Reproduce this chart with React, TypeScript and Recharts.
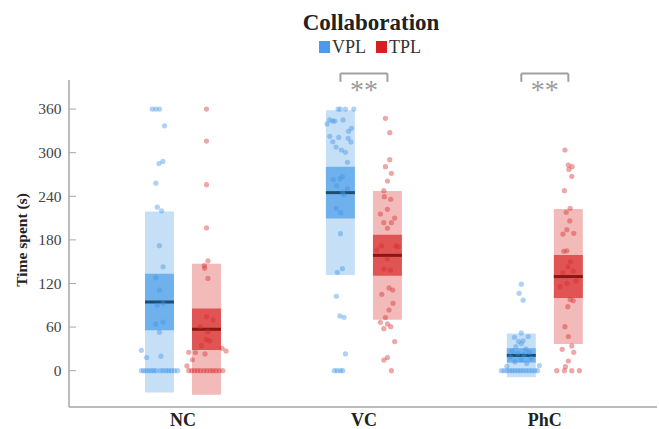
import React from 'react';
import {
  ComposedChart,
  XAxis,
  YAxis,
  Scatter,
  ReferenceArea,
  ReferenceLine,
  Legend,
} from 'recharts';

// ---------------- data ----------------
const title = 'Collaboration';
const yLabel = 'Time spent (s)';
const categories = ['NC', 'VC', 'PhC'];
const seriesNames = ['VPL', 'TPL'];
const yTicks = [0, 60, 120, 180, 240, 300, 360];

// mean, standard deviation (light box), confidence half-width (dark box)
const vplMean = [94.5, 245, 21];
const vplSd = [124.5, 113.5, 30.2];
const vplCi = [39, 35.5, 9.9];
const tplMean = [57, 158.7, 129.5];
const tplSd = [90.3, 88.7, 92.9];
const tplCi = [28.4, 28.2, 29.6];

// individual observations: [jitter (category units), seconds]
const vplNC: [number, number][] = [
  [-0.04, 360], [-0.02, 360], [0, 360], [0.028, 337], [0.019, 288], [-0.003, 285],
  [-0.02, 258], [-0.012, 225], [0.012, 220], [0, 172], [0.02, 143], [-0.02, 128],
  [0, 111], [0.02, 93], [-0.012, 90], [0.02, 67], [-0.02, 64], [0, 53],
  [-0.1, 28], [-0.071, 18], [0.008, 20],
  [-0.1, 0], [-0.088, 0], [-0.074, 0], [-0.06, 0], [-0.045, 0], [-0.032, 0],
  [-0.018, 0], [0.005, 0], [0.02, 0], [0.036, 0], [0.05, 0], [0.066, 0],
  [0.082, 0], [0.1, 0],
];
const vplVC: [number, number][] = [
  [-0.013, 360], [0, 360], [0.028, 360], [0.074, 360], [-0.059, 345], [-0.042, 343.5],
  [-0.031, 343.5], [0.015, 345], [-0.074, 339.5], [0.061, 333.5], [0.045, 329.4],
  [-0.059, 322.5], [-0.009, 321], [0.043, 319.8], [-0.042, 315], [0.058, 314.7],
  [-0.024, 307.8], [0.006, 303.7], [0.028, 300.5], [0.039, 286.8], [-0.04, 262.8],
  [-0.003, 263.8], [0.011, 267], [-0.02, 254.6], [0.039, 250.5], [0.02, 241.8],
  [0.011, 245], [-0.022, 223.5], [0.002, 217.4], [0, 188.5], [-0.017, 135.4],
  [0.011, 140.4], [-0.022, 102.4], [-0.003, 75.3], [0.02, 73.5], [0.028, 23],
  [-0.033, 0], [-0.018, 0], [0, 0], [0.013, 0],
];
const vplPhC: [number, number][] = [
  [0, 119], [-0.012, 106.5], [0.01, 97], [0, 52], [-0.038, 46], [0.038, 47],
  [-0.015, 40], [0.01, 41], [0, 37], [-0.03, 33], [0.025, 30], [-0.05, 27],
  [0.045, 25], [-0.02, 24], [0.015, 22], [-0.06, 19], [0.055, 17], [0, 15],
  [-0.035, 12], [0.03, 10], [-0.08, 6], [0.1, 7],
  [-0.11, 0], [-0.095, 0], [-0.08, 0], [-0.064, 0], [-0.05, 0], [-0.035, 0],
  [-0.02, 0], [-0.005, 0], [0.01, 0], [0.026, 0], [0.042, 0], [0.058, 0],
  [0.075, 0], [0.09, 0],
];
const tplNC: [number, number][] = [
  [0, 360], [0, 316], [0, 256], [0, 196.4], [0.008, 151], [-0.012, 144.5],
  [-0.01, 141], [0.008, 127], [0, 74.3], [0.036, 70], [-0.034, 60.5], [0.007, 53.7],
  [0, 43], [0.018, 41], [-0.028, 34.4], [0.086, 30.8], [0.108, 27], [-0.098, 25.3],
  [-0.061, 25], [-0.008, 23], [-0.078, 15], [-0.108, 6.5],
  [-0.098, 0], [-0.082, 0], [-0.066, 0], [-0.05, 0], [-0.034, 0], [-0.015, 0],
  [0.002, 0], [0.02, 0], [0.036, 0], [0.052, 0], [0.07, 0], [0.09, 0],
];
const tplVC: [number, number][] = [
  [-0.011, 347.3], [0.013, 327.5], [0.013, 290.4], [-0.011, 280.7], [0.022, 271.6],
  [0, 261], [-0.02, 247.7], [-0.017, 239.4], [0.018, 235.9], [0, 222], [-0.039, 215.6],
  [0.04, 210], [-0.02, 203.7], [0.022, 203.7], [0, 196], [-0.058, 166], [-0.033, 171.6],
  [0.046, 171.6], [0.059, 170.7], [0, 153.7], [-0.019, 140], [0.017, 138.6],
  [0.009, 113.8], [0.029, 111], [-0.031, 105], [0.031, 92.7], [0.009, 83.5],
  [-0.011, 73], [-0.039, 66.5], [0, 64.3], [0.018, 60.5], [-0.02, 57.8], [0.04, 40],
  [0, 18], [-0.02, 14.7], [0.022, 0],
];
const tplPhC: [number, number][] = [
  [-0.019, 303.7], [0, 283], [0.021, 280.7], [0.003, 277], [0.019, 267.5],
  [-0.022, 247.7], [0.01, 223.5], [-0.012, 218], [0.008, 206], [-0.008, 194],
  [-0.03, 188], [0.03, 189], [-0.025, 164.3], [-0.008, 165], [0.012, 150],
  [-0.003, 143], [-0.03, 135], [0.027, 137], [0.043, 123.4], [-0.047, 115.6],
  [-0.007, 120.2], [0.01, 98], [0.027, 96.3], [-0.003, 88], [-0.019, 60.5], [0, 47],
  [0.019, 34], [-0.034, 29.4], [0.03, 25.3], [0, 13.3], [-0.016, 5.5],
  [-0.064, 0], [-0.022, 0], [0.019, 0], [0.061, 0],
];

const significantCategories = ['VC', 'PhC'];
const significanceText = '**';

// ---------------- layout / styles ----------------
const FONT = '"Liberation Serif", "Times New Roman", serif';
const OFFSET = [-0.13, 0.13];
const HALF = 0.08;
const BRACKET_TOP = 409;
const BRACKET_LEG = 397.5;
const STYLE = [
  { light: '#c5dff7', dark: '#6fb1ec', mean: '#1d4e70', point: '#3d94e6', legend: '#4a9be8' },
  { light: '#f3baba', dark: '#e05454', mean: '#8a1616', point: '#d62a2a', legend: '#d42020' },
];

const seriesStats = [
  { mean: vplMean, sd: vplSd, ci: vplCi, points: [vplNC, vplVC, vplPhC] },
  { mean: tplMean, sd: tplSd, ci: tplCi, points: [tplNC, tplVC, tplPhC] },
];

const scatterData = seriesStats.map((s, si) =>
  s.points.flatMap((pts, gi) =>
    pts.map(([dx, v]) => ({ x: gi + 1 + OFFSET[si] + dx, y: v }))
  )
);

const serif = { fontFamily: FONT };

const XTick = (props: any) => {
  const { x, y, payload } = props;
  return (
    <text x={x} y={y} dy={19} textAnchor="middle" style={serif} fontWeight="bold" fontSize={18} fill="#222">
      {categories[payload.value - 1]}
    </text>
  );
};

const YTick = (props: any) => {
  const { x, y, payload } = props;
  return (
    <g>
      <line x1={x + 7.6} x2={x + 14.6} y1={y} y2={y} stroke="#a6a6a6" strokeWidth={1} />
      <text x={x} y={y} dy="0.35em" textAnchor="end" style={serif} fontSize={15.5} fill="#444">
        {payload.value}
      </text>
    </g>
  );
};

const YLabel = (props: any) => {
  const vb = props.viewBox || { x: 9, y: 80, width: 60, height: 327 };
  const cx = vb.x + 12;
  const cy = vb.y + vb.height / 2 - 3.5;
  return (
    <text
      x={cx}
      y={cy}
      transform={`rotate(-90, ${cx}, ${cy})`}
      textAnchor="middle"
      dominantBaseline="central"
      style={serif}
      fontWeight="bold"
      fontSize={15.5}
      fill="#222"
    >
      {yLabel}
    </text>
  );
};

const SigLabel = (props: any) => {
  const vb = props.viewBox || { x: 0, y: 0, width: 0, height: 0 };
  return (
    <text
      x={vb.x + vb.width / 2}
      y={vb.y + 26}
      textAnchor="middle"
      style={serif}
      fontSize={28}
      fill="#9a9a9a"
    >
      {significanceText}
    </text>
  );
};

const LegendContent = () => (
  <div style={{ display: 'flex', alignItems: 'center', fontFamily: FONT, fontSize: 18, lineHeight: '18px', color: '#333' }}>
    {seriesNames.map((n, i) => (
      <div key={n} style={{ display: 'flex', alignItems: 'center', marginRight: 10 }}>
        <span style={{ display: 'inline-block', width: 11, height: 12, background: STYLE[i].legend, marginRight: 2 }} />
        <span>{n}</span>
      </div>
    ))}
  </div>
);

export default function App() {
  return (
    <div style={{ position: 'absolute', left: 0, top: 0, width: 659, height: 429, background: '#fff', fontFamily: FONT }}>
      <div
        style={{
          position: 'absolute', left: 271, top: 11, width: 200, textAlign: 'center',
          fontSize: 23, lineHeight: '23px', fontWeight: 'bold', color: '#222', zIndex: 2,
        }}
      >
        {title}
      </div>
      <ComposedChart width={659} height={429} margin={{ top: 80, right: 2, bottom: 0, left: 9 }} style={serif}>
        <XAxis
          type="number"
          dataKey="x"
          domain={[0.37, 3.62]}
          ticks={[1, 2, 3]}
          interval={0}
          allowDataOverflow
          height={22}
          tickLine={false}
          tickSize={0}
          tickMargin={0}
          axisLine={{ stroke: '#a6a6a6', strokeWidth: 1.5 }}
          tick={<XTick />}
        />
        <YAxis
          type="number"
          dataKey="y"
          domain={[-50, 400]}
          ticks={yTicks}
          interval={0}
          allowDataOverflow
          width={60}
          tickLine={false}
          tickSize={0}
          tickMargin={7.6}
          axisLine={{ stroke: '#a6a6a6', strokeWidth: 1.5 }}
          tick={<YTick />}
          label={YLabel}
        />
        <Legend
          layout="horizontal"
          verticalAlign="middle"
          align="center"
          wrapperStyle={{ left: 319, top: 38, width: 120, height: 20 }}
          content={LegendContent}
        />
        {seriesStats.map((s, si) =>
          categories.map((c, gi) => {
            const cx = gi + 1 + OFFSET[si];
            return (
              <ReferenceArea
                key={`sd-${si}-${c}`}
                x1={cx - HALF}
                x2={cx + HALF}
                y1={s.mean[gi] - s.sd[gi]}
                y2={s.mean[gi] + s.sd[gi]}
                fill={STYLE[si].light}
                fillOpacity={1}
                stroke="none"
              />
            );
          })
        )}
        {seriesStats.map((s, si) =>
          categories.map((c, gi) => {
            const cx = gi + 1 + OFFSET[si];
            return (
              <ReferenceArea
                key={`ci-${si}-${c}`}
                x1={cx - HALF}
                x2={cx + HALF}
                y1={s.mean[gi] - s.ci[gi]}
                y2={s.mean[gi] + s.ci[gi]}
                fill={STYLE[si].dark}
                fillOpacity={1}
                stroke="none"
              />
            );
          })
        )}
        {seriesNames.map((n, si) => (
          <Scatter
            key={n}
            name={n}
            data={scatterData[si]}
            isAnimationActive={false}
            shape={(p: any) => (
              <circle cx={p.cx} cy={p.cy} r={2.6} fill={STYLE[si].point} fillOpacity={0.42} />
            )}
          />
        ))}
        {seriesStats.map((s, si) =>
          categories.map((c, gi) => {
            const cx = gi + 1 + OFFSET[si];
            return (
              <ReferenceLine
                key={`mean-${si}-${c}`}
                segment={[{ x: cx - HALF, y: s.mean[gi] }, { x: cx + HALF, y: s.mean[gi] }]}
                stroke={STYLE[si].mean}
                strokeWidth={3}
              />
            );
          })
        )}
        {significantCategories.map((c) => {
          const gi = categories.indexOf(c);
          const xa = gi + 1 + OFFSET[0];
          const xb = gi + 1 + OFFSET[1];
          return [
            <ReferenceLine
              key={`sig-top-${c}`}
              segment={[{ x: xa, y: BRACKET_TOP }, { x: xb, y: BRACKET_TOP }]}
              stroke="#a0a0a0"
              strokeWidth={2}
              ifOverflow="visible"
              label={SigLabel}
            />,
            <ReferenceLine
              key={`sig-l-${c}`}
              segment={[{ x: xa, y: BRACKET_TOP }, { x: xa, y: BRACKET_LEG }]}
              stroke="#a0a0a0"
              strokeWidth={2}
              ifOverflow="visible"
            />,
            <ReferenceLine
              key={`sig-r-${c}`}
              segment={[{ x: xb, y: BRACKET_TOP }, { x: xb, y: BRACKET_LEG }]}
              stroke="#a0a0a0"
              strokeWidth={2}
              ifOverflow="visible"
            />,
          ];
        })}
      </ComposedChart>
    </div>
  );
}
